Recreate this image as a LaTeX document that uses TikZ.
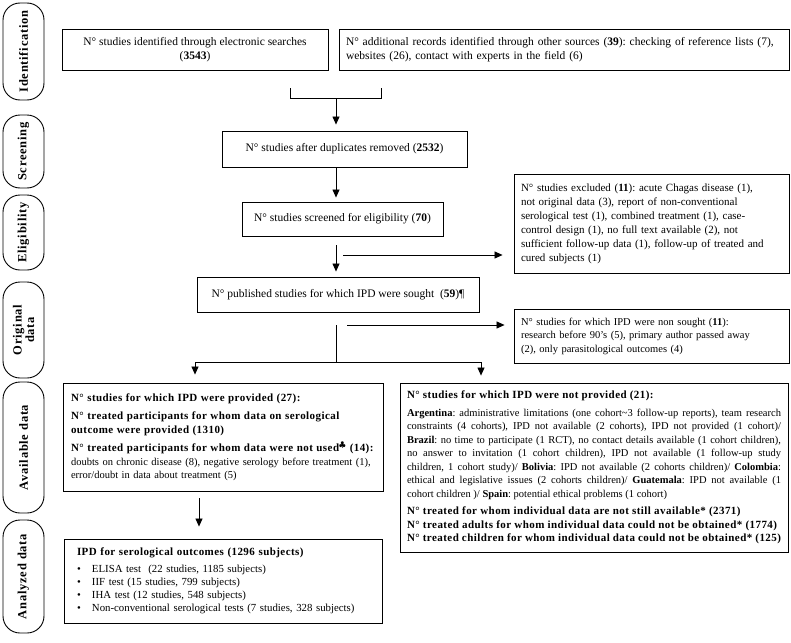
\documentclass[tikz,border=0pt]{standalone}
\usepackage{fontspec}
\setmainfont{Liberation Serif}
\newfontfamily\stagefont[LetterSpace=6]{Liberation Serif}
\newfontfamily\headfont[LetterSpace=4]{Liberation Serif}
\usetikzlibrary{arrows.meta}
\frenchspacing

\newcommand{\hd}[1]{{\headfont\fontsize{11}{13.5}\selectfont\bfseries #1}}

\begin{document}
\begin{tikzpicture}[
    x = 1pt, y = -1pt,
    %
    stage/.style = {draw, line width = 0.9pt,
      rounded corners = 17pt, rotate = 90,
      minimum height = 41pt, align = center,
      font = \stagefont\fontsize{12.5}{12.5}\selectfont\bfseries},
    %
    box/.style = {draw, line width = 0.9pt,
      inner xsep = 7pt, inner ysep = 4pt,
      font = \fontsize{11.5}{14}\selectfont},
    small/.style = {font = \fontsize{10.5}{13.5}\selectfont},
    %
    flow/.style = {-{Triangle[length = 8pt, width = 7pt]},
      line width = 0.7pt},
    link/.style = {line width = 0.7pt},
    ]

    \useasboundingbox (0, 0) rectangle (791, 642);

    % phases on the left
    \node at (23.5, 51.5) [stage, minimum width = 97pt, name = s_ident] {Identification};
    \node at (23.5, 151.5) [stage, minimum width = 73pt, name = s_screen] {Screening};
    \node at (23.5, 232.5) [stage, minimum width = 75pt, name = s_elig] {Eligibility};
    \node at (23.5, 330) [stage, minimum width = 96pt, name = s_orig] {Original\\data};
    \node at (23.5, 447.5) [stage, minimum width = 131pt, name = s_avail] {Available data};
    \node at (23.5, 576.5) [stage, minimum width = 113pt, name = s_anal] {Analyzed data};

    % boxes
    \node at (195, 49.5)
    [box, minimum width = 266pt, minimum height = 41pt, align = center, name = recs_db]
    {N° studies identified through electronic searches\\(\textbf{3543})};
    \node at (564, 49.5)
    [box, text width = 436pt, minimum height = 41pt, align = left, name = recs_other]
    {N° additional records identified through other sources (\textbf{39}): checking of reference lists (7),\\
      websites (26), contact with experts in the field (6)};

    \node at (344.5, 149)
    [box, minimum width = 245pt, minimum height = 36pt, name = dedup]
    {N° studies after duplicates removed (\textbf{2532})};
    \node at (342.5, 219)
    [box, minimum width = 201pt, minimum height = 34pt, name = screened]
    {N° studies screened for eligibility (\textbf{70})};
    \node at (338, 294.5)
    [box, minimum width = 282pt, minimum height = 35pt, name = sought]
    {N° published studies for which IPD were sought~~(\textbf{59})¶};

    \node at (651.5, 223.5)
    [box, font = \fontsize{11}{14}\selectfont, text width = 261pt, minimum height = 99pt, align = left, name = excluded]
    {N° studies excluded (\textbf{11}): acute Chagas disease (1),\\
      not original data (3), report of non-conventional\\
      serological test (1), combined treatment (1), case-\\
      control design (1), no full text available (2), not\\
      sufficient follow-up data (1), follow-up of treated and\\
      cured subjects (1)};
    \node at (651.5, 336)
    [box, small, text width = 261pt, minimum height = 54pt, align = left, name = notsought]
    {N° studies for which IPD were non sought (\textbf{11}):\\
      research before 90’s (5), primary author passed away\\
      (2), only parasitological outcomes (4)};

    \node at (223, 437)
    [box, small, inner xsep = 8pt, text width = 304pt, minimum height = 108pt, align = left, name = provided]
    {\hd{N° studies for which IPD were provided (27):}\\[5pt]
      \hd{N° treated participants for whom data on serological}\\
      \hd{outcome were provided (1310)}\\[5pt]
      \hd{N° treated participants for whom data were not used$^{\clubsuit}$ (14):}\\
      doubts on chronic disease (8), negative serology before treatment (1),\\
      error/doubt in data about treatment (5)};

    \node at (594, 467.5)
    [box, small, text width = 374pt, minimum height = 169pt, align = justify, name = notprovided]
    {\hd{N° studies for which IPD were not provided (21):}\par\vspace{4pt}
      \textbf{Argentina}: administrative limitations (one cohort\textasciitilde 3 follow-up reports), team research\linebreak
      constraints (4 cohorts), IPD not available (2 cohorts), IPD not provided (1 cohort)/\linebreak
      \textbf{Brazil}: no time to participate (1 RCT), no contact details available (1 cohort children),\linebreak
      no answer to invitation (1 cohort children), IPD not available (1 follow-up study\linebreak
      children, 1 cohort study)/ \textbf{Bolivia}: IPD not available (2 cohorts children)/ \textbf{Colombia}:\linebreak
      ethical and legislative issues (2 cohorts children)/ \textbf{Guatemala}: IPD not available (1\linebreak
      cohort children )/ \textbf{Spain}: potential ethical problems (1 cohort)\par\vspace{4pt}
      \hd{N° treated for whom individual data are not still available* (2371)}\par
      \hd{N° treated adults for whom individual data could not be obtained* (1774)}\par
      \hd{N° treated children for whom individual data could not be obtained* (125)}};

    \node at (223, 581)
    [box, font = \fontsize{10.8}{13}\selectfont, inner xsep = 13pt, text width = 292pt, minimum height = 84pt, align = left, name = analyzed]
    {\hd{IPD for serological outcomes (1296 subjects)}\\[4pt]
      \makebox[15pt][l]{\textbullet}ELISA test~~(22 studies, 1185 subjects)\\
      \makebox[15pt][l]{\textbullet}IIF test (15 studies, 799 subjects)\\
      \makebox[15pt][l]{\textbullet}IHA test (12 studies, 548 subjects)\\
      \makebox[15pt][l]{\textbullet}Non-conventional serological tests (7 studies, 328 subjects)};

    % connectors
    \coordinate (brk_l) at (290, 88);
    \coordinate (brk_r) at (381, 88);
    \coordinate (brk_m) at (336, 98);
    \coordinate (excl_from) at (343, 255);
    \coordinate (ns_from) at (347, 325);
    \coordinate (split_mid) at (336, 362);
    \coordinate (split_l) at (195, 362);
    \coordinate (split_r) at (481, 362);
    \coordinate (an_x) at (199, 0);

    \draw [link] (brk_l) -- (brk_l |- brk_m) -- (brk_r |- brk_m) -- (brk_r);
    \draw [flow, shorten > = 6pt] (brk_m) to (brk_m |- dedup.north);
    \draw [flow, shorten > = 4pt] (brk_m |- dedup.south) to (brk_m |- screened.north);
    \draw [flow, shorten < = 9pt, shorten > = 5pt] (brk_m |- screened.south) to (brk_m |- sought.north);
    \draw [flow, shorten > = 11pt] (excl_from) to (excl_from -| excluded.west);

    \draw [link, shorten < = 13pt] (brk_m |- sought.south) to (split_mid);
    \draw [link] (split_l) -- (split_r);
    \draw [flow, shorten > = 9pt] (ns_from) to (ns_from -| notsought.west);
    \draw [flow, shorten > = 8pt] (split_l) to (split_l |- provided.north);
    \draw [flow, shorten > = 7pt] (split_r) to (split_r |- notprovided.north);

    \draw [flow, shorten < = 7pt, shorten > = 12pt] (an_x |- provided.south) to (an_x |- analyzed.north);

  \end{tikzpicture}
\end{document}
